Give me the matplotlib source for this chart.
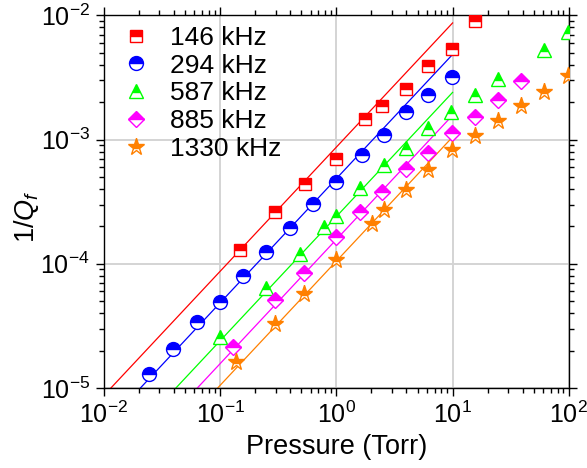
"""Loss 1/Q_f versus pressure for the five resonator modes."""

import matplotlib

matplotlib.use("Agg")

import matplotlib.pyplot as plt
import numpy as np

plt.rcParams["font.family"] = ["Liberation Sans", "DejaVu Sans"]
plt.rcParams["mathtext.fontset"] = "custom"
plt.rcParams["mathtext.rm"] = "Liberation Sans"
plt.rcParams["mathtext.it"] = "Liberation Sans:italic"

LABELS = ["146 kHz", "294 kHz", "587 kHz", "885 kHz", "1330 kHz"]
COLORS = ["#ff0000", "#0000ff", "#00ff00", "#ff00ff", "#ff8000"]
MARKERS = ["s", "o", "^", "D", "*"]
MARKER_SIZES = [8.5, 10, 10.5, 8.5, 12.5]

# measured points (pressure in Torr, 1/Q_f)
p_146 = [0.148, 0.295, 0.54, 1.0, 1.77, 2.45, 3.95, 6.1, 9.8, 15.6]
q_146 = [1.29e-4, 2.62e-4, 4.37e-4, 7.0e-4, 1.46e-3, 1.86e-3, 2.54e-3,
         3.92e-3, 5.37e-3, 9.08e-3]

p_294 = [0.0245, 0.0394, 0.0627, 0.099, 0.158, 0.247, 0.403, 0.63, 0.995,
         1.66, 2.55, 4.0, 6.2, 9.8]
q_294 = [1.30e-5, 2.07e-5, 3.40e-5, 4.89e-5, 7.92e-5, 1.245e-4, 1.96e-4,
         3.02e-4, 4.58e-4, 7.54e-4, 1.08e-3, 1.66e-3, 2.30e-3, 3.19e-3]

p_587 = [0.099, 0.247, 0.491, 0.784, 0.995, 1.61, 2.55, 3.95, 6.2, 9.6,
         15.6, 24.6, 61.5, 98.0]
q_587 = [2.57e-5, 6.43e-5, 1.21e-4, 1.98e-4, 2.42e-4, 4.04e-4, 6.26e-4,
         8.54e-4, 1.24e-3, 1.68e-3, 2.29e-3, 3.08e-3, 5.27e-3, 7.40e-3]

p_885 = [0.128, 0.297, 0.527, 1.0, 1.61, 2.45, 3.95, 6.2, 9.8, 15.6, 24.6,
         39.0]
q_885 = [2.13e-5, 5.14e-5, 8.49e-5, 1.64e-4, 2.62e-4, 3.82e-4, 5.75e-4,
         7.83e-4, 1.135e-3, 1.53e-3, 2.07e-3, 2.96e-3]

p_1330 = [0.138, 0.297, 0.527, 1.0, 2.04, 2.55, 3.95, 6.2, 9.8, 15.6, 24.6,
          39.0, 61.5, 98.0]
q_1330 = [1.61e-5, 3.25e-5, 5.67e-5, 1.07e-4, 2.11e-4, 2.70e-4, 3.92e-4,
          5.68e-4, 8.22e-4, 1.07e-3, 1.42e-3, 1.86e-3, 2.42e-3, 3.25e-3]

PRESSURES = [p_146, p_294, p_587, p_885, p_1330]
LOSSES = [q_146, q_294, q_587, q_885, q_1330]

# linear fits 1/Q_f = a * p in the molecular regime
FIT_SLOPES = [8.7e-4, 4.85e-4, 2.4e-4, 1.57e-4, 1.05e-4]
FIT_P_MAX = 10.0
Y_MIN = 1e-5

fig = plt.figure(figsize=(5.87, 4.68), dpi=100)
ax = fig.add_axes([0.177, 0.171, 0.792, 0.796])

for slope, color in zip(FIT_SLOPES, COLORS):
    p_fit = np.array([Y_MIN / slope, FIT_P_MAX])
    ax.plot(p_fit, slope * p_fit, color=color, linewidth=0.9, zorder=2)

for p, q, label, color, marker, size in zip(
    PRESSURES, LOSSES, LABELS, COLORS, MARKERS, MARKER_SIZES
):
    ax.plot(
        p,
        q,
        linestyle="none",
        marker=marker,
        markersize=size,
        fillstyle="top",
        markerfacecolor=color,
        markerfacecoloralt="white",
        markeredgecolor=color,
        markeredgewidth=1.0,
        label=label,
        zorder=3,
    )

ax.set_xscale("log")
ax.set_yscale("log")
ax.set_xlim(1e-2, 1e2)
ax.set_ylim(1e-5, 1e-2)
ax.grid(True, which="major", color="#d4d4d4", linewidth=1.4)
ax.set_axisbelow(True)

ax.tick_params(which="both", direction="out", top=True, right=True,
               labelsize=18, width=1.0)
ax.tick_params(which="major", length=6, pad=4)
ax.tick_params(which="minor", length=3.5)
for spine in ax.spines.values():
    spine.set_linewidth(1.0)

ax.set_xlabel("Pressure (Torr)", fontsize=19.5, labelpad=4)
ax.set_ylabel(r"1/$Q_f$", fontsize=19.5)
ax.yaxis.set_label_coords(-0.135, 0.46)

ax.legend(
    loc="upper left",
    bbox_to_anchor=(0.0, 1.0),
    frameon=False,
    fontsize=19,
    numpoints=1,
    labelspacing=0.14,
    handlelength=1.6,
    handletextpad=0.5,
    borderpad=0.1,
    borderaxespad=0.3,
)

fig.savefig("out.png", dpi=100)
